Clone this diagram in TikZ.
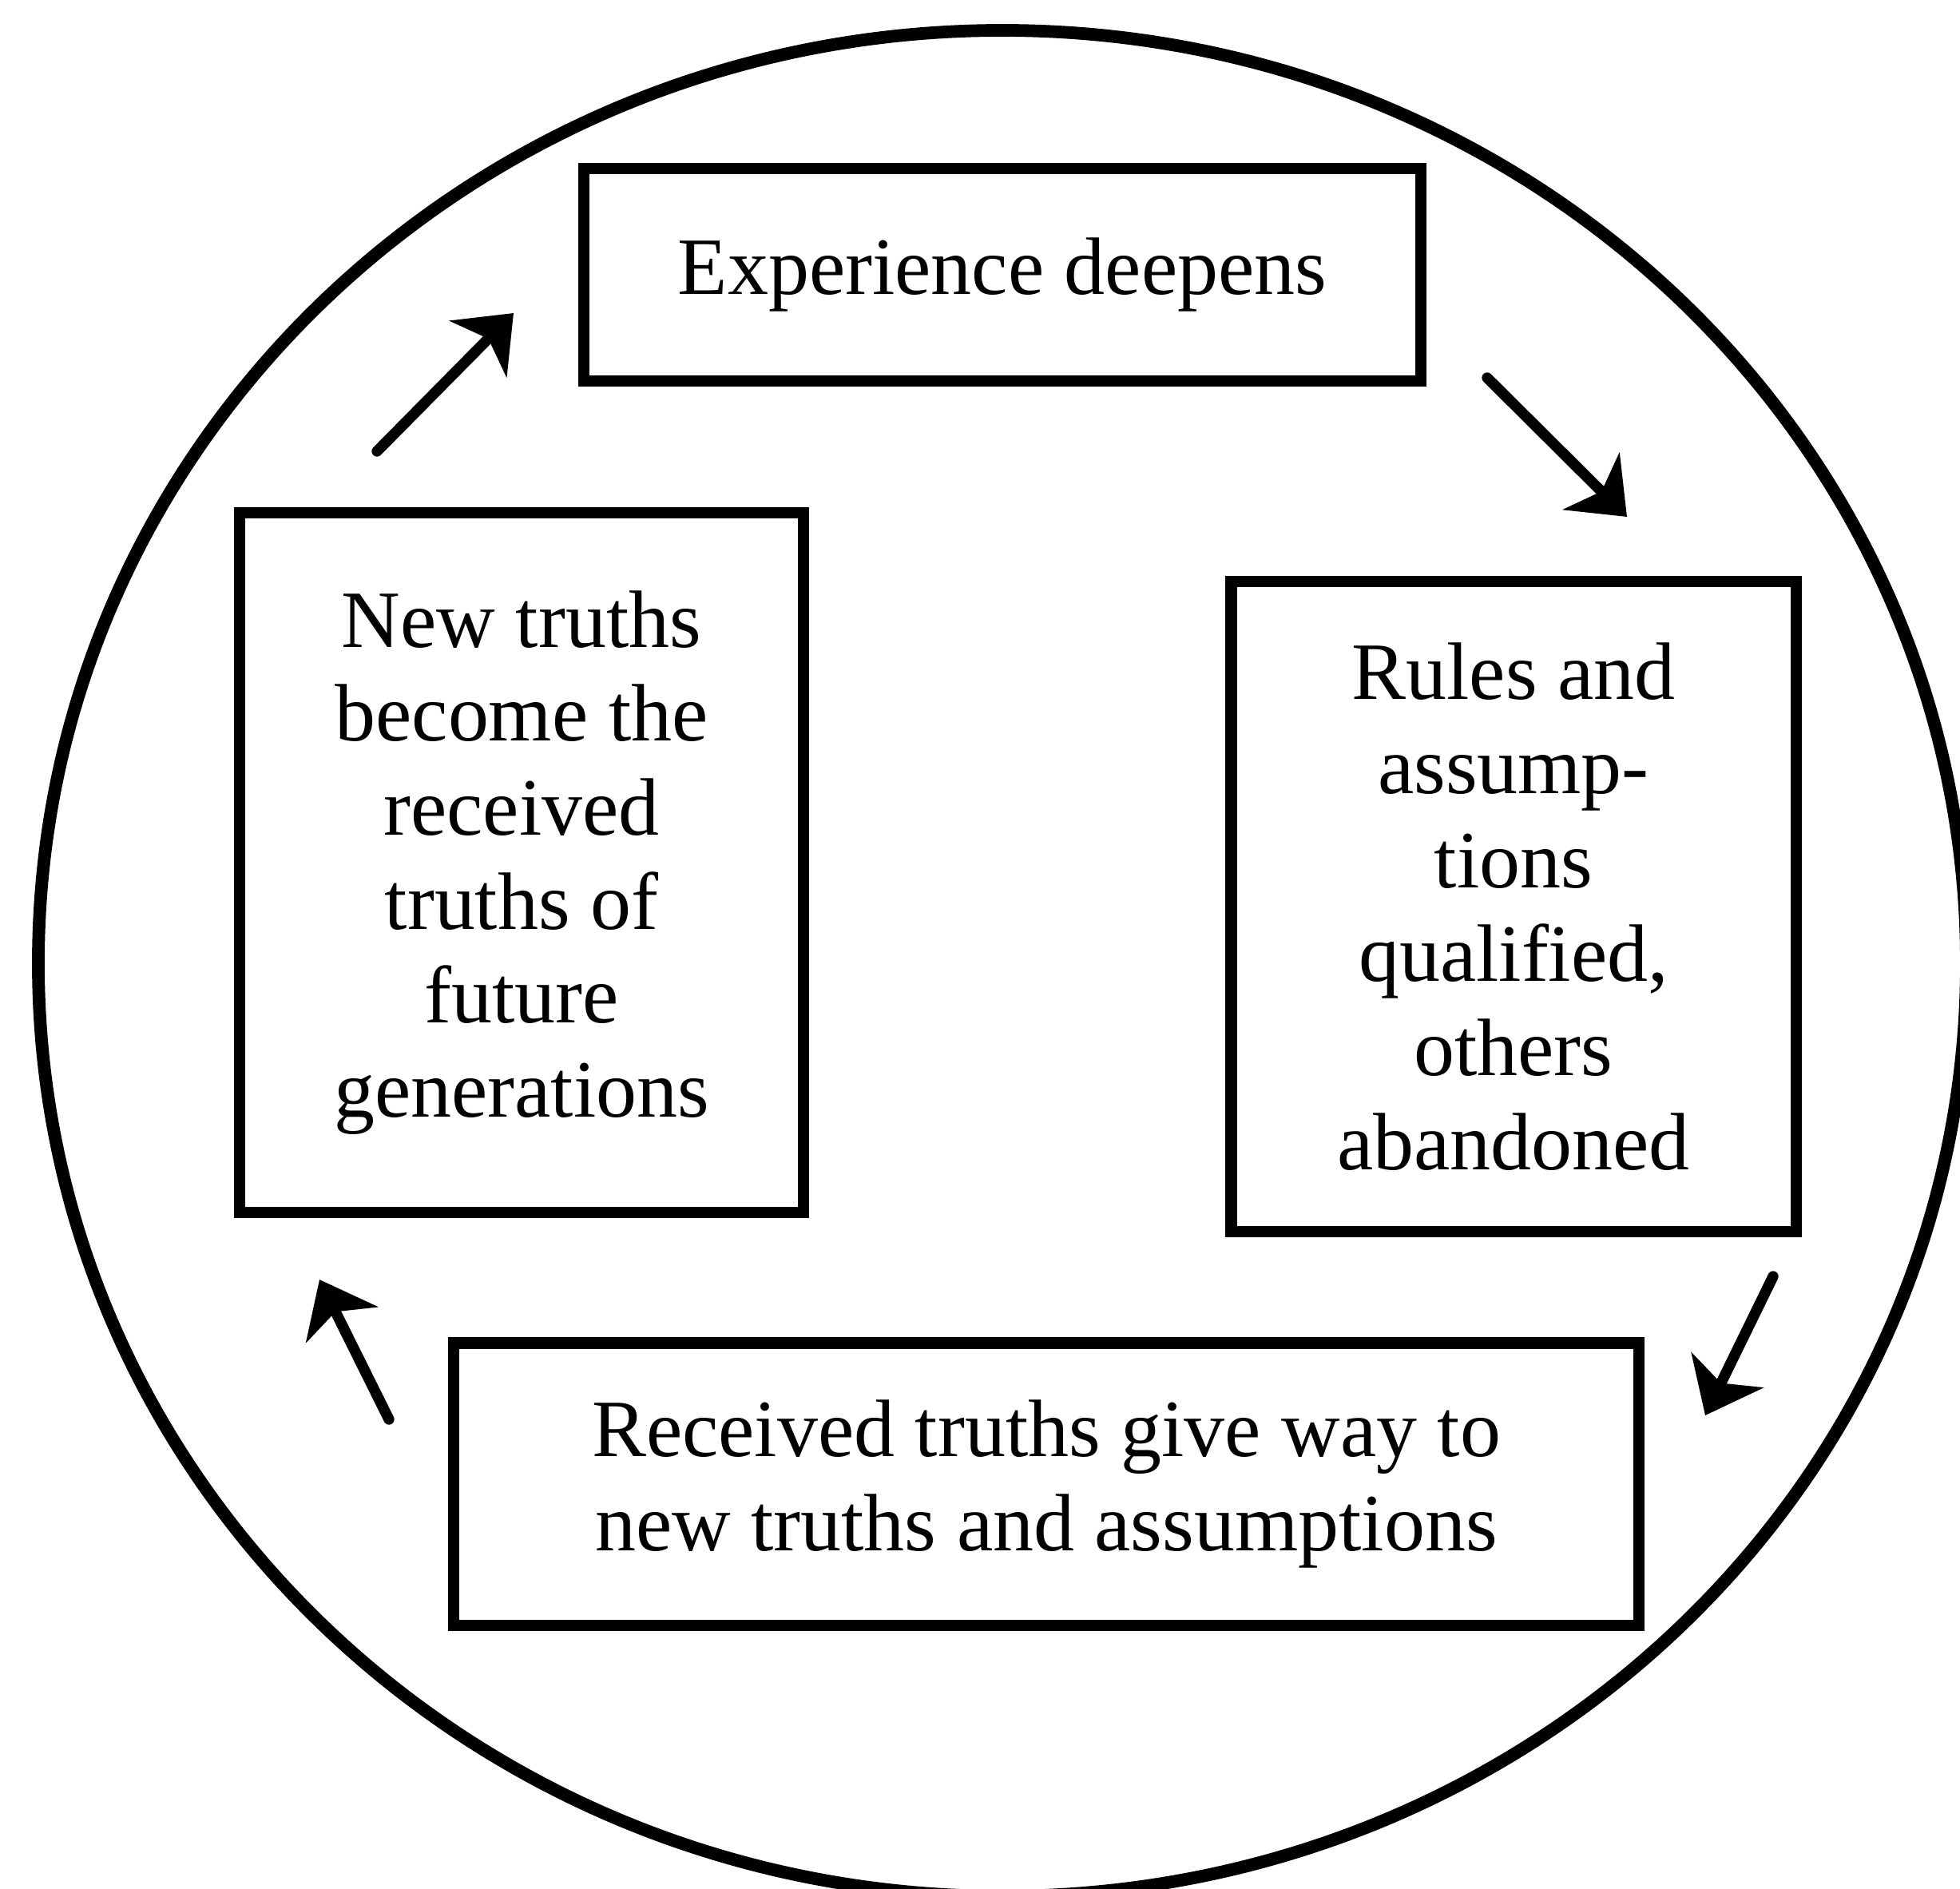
\documentclass[tikz,border=0pt]{standalone}
\usepackage{fontspec}
\setmainfont{Liberation Serif}
\usetikzlibrary{arrows.meta}

\begin{document}
\begin{tikzpicture}[>={Stealth[length=6.3mm,width=10mm,inset=1.8mm]},
  stage/.style={draw=black,line width=4pt,align=center,inner sep=2pt,font=\fontsize{29}{33.5}\selectfont},
  cyc/.style={->,line width=3.8pt,line cap=round}]
\useasboundingbox (0,0) rectangle (24.54,-23.64);
\clip (0,0) rectangle (24.54,-23.64);
\draw[line width=4.5pt] (12.55,-12.06) ellipse [x radius=12.07cm,y radius=11.68cm];
\node[stage,minimum width=10.48cm,minimum height=2.66cm] (exp) at (12.55,-3.44) {Experience deepens};
\node[stage,minimum width=7.06cm,minimum height=8.76cm] (newt) at (6.53,-10.80) {New truths\\become the\\received\\truths of\\future\\generations};
\node[stage,minimum width=7.07cm,minimum height=8.14cm] (rules) at (18.95,-11.35) {Rules and\\assump-\\tions\\qualified,\\others\\abandoned};
\node[stage,minimum width=14.84cm,minimum height=3.53cm] (recv) at (13.10,-18.58) {Received truths give way to\\new truths and assumptions};
\coordinate (a1s) at (4.72,-5.65);
\coordinate (a1e) at (6.43,-3.92);
\coordinate (a2s) at (18.62,-4.73);
\coordinate (a2e) at (20.37,-6.47);
\coordinate (a3s) at (22.20,-15.98);
\coordinate (a3e) at (21.35,-17.72);
\coordinate (a4s) at (4.87,-17.77);
\coordinate (a4e) at (4.00,-16.02);
\draw[cyc] (a1s)--(a1e);
\draw[cyc] (a2s)--(a2e);
\draw[cyc] (a3s)--(a3e);
\draw[cyc] (a4s)--(a4e);
\end{tikzpicture}
\end{document}
